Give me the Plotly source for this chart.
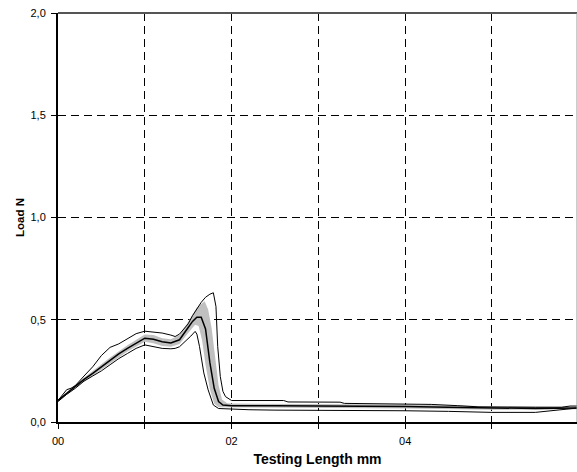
import plotly.graph_objects as go

# Mean curve
mean_x = [0, 0.1, 0.2, 0.3, 0.4, 0.5, 0.6, 0.7, 0.8, 0.9, 1.0, 1.1, 1.2, 1.3, 1.4, 1.5, 1.55, 1.6, 1.65,
          1.7, 1.75, 1.8, 1.85, 1.9, 1.95, 2.0, 2.5, 3.0, 3.5, 4.0, 4.5, 5.0, 5.5, 5.98]
mean_y = [0.105, 0.14, 0.175, 0.208, 0.238, 0.27, 0.30, 0.333, 0.36, 0.385, 0.41, 0.405, 0.392, 0.386, 0.402,
          0.462, 0.492, 0.512, 0.512, 0.455, 0.29, 0.165, 0.10, 0.083, 0.080, 0.080, 0.080, 0.079, 0.078,
          0.076, 0.072, 0.068, 0.066, 0.068]

# Maximum envelope
max_x = [0, 0.05, 0.1, 0.15, 0.2, 0.3, 0.4, 0.5, 0.6, 0.7, 0.8, 0.9, 1.0, 1.1, 1.2, 1.3, 1.35, 1.4, 1.5,
         1.55, 1.6, 1.65, 1.7, 1.75, 1.79, 1.82, 1.84, 1.87, 1.9, 1.93, 2.0, 2.6, 2.65, 3.25, 3.3, 4.0,
         4.3, 4.6, 4.85, 5.5, 5.8, 5.9, 5.98]
max_y = [0.105, 0.13, 0.158, 0.165, 0.178, 0.225, 0.27, 0.325, 0.365, 0.382, 0.405, 0.432, 0.444, 0.44,
         0.435, 0.425, 0.418, 0.43, 0.48, 0.52, 0.555, 0.585, 0.61, 0.625, 0.632, 0.565, 0.37, 0.222, 0.15,
         0.124, 0.105, 0.105, 0.098, 0.097, 0.091, 0.09, 0.086, 0.08, 0.074, 0.072, 0.072, 0.078, 0.078]

# Minimum envelope
min_x = [0, 0.1, 0.2, 0.3, 0.4, 0.5, 0.6, 0.7, 0.8, 0.9, 1.0, 1.1, 1.2, 1.3, 1.35, 1.4, 1.47, 1.53, 1.58,
         1.6, 1.63, 1.68, 1.73, 1.79, 1.85, 2.0, 2.2, 2.5, 3.0, 3.5, 3.75, 4.0, 4.5, 4.7, 5.0, 5.5, 5.75, 5.98]
min_y = [0.10, 0.135, 0.165, 0.20, 0.225, 0.25, 0.28, 0.31, 0.335, 0.36, 0.377, 0.368, 0.36, 0.358, 0.36,
         0.368, 0.394, 0.42, 0.443, 0.43, 0.37, 0.24, 0.157, 0.083, 0.066, 0.062, 0.060, 0.058, 0.057,
         0.056, 0.058, 0.055, 0.052, 0.05, 0.047, 0.047, 0.058, 0.068]

# Standard-deviation band edges
band_hi_x = [0, 0.2, 0.4, 0.6, 0.8, 1.0, 1.1, 1.2, 1.3, 1.4, 1.5, 1.6, 1.69, 1.73, 1.77, 1.81, 1.85, 1.89,
             1.95, 2.0, 3.0, 4.0, 5.0, 5.98]
band_hi_y = [0.11, 0.183, 0.25, 0.315, 0.375, 0.428, 0.425, 0.41, 0.405, 0.425, 0.49, 0.56, 0.59, 0.55,
             0.46, 0.32, 0.18, 0.11, 0.092, 0.09, 0.089, 0.086, 0.077, 0.074]
band_lo_x = [0, 0.2, 0.4, 0.6, 0.8, 1.0, 1.1, 1.2, 1.3, 1.4, 1.5, 1.58, 1.62, 1.66, 1.70, 1.75, 1.8, 1.85,
             2.0, 3.0, 4.0, 5.0, 5.98]
band_lo_y = [0.10, 0.167, 0.227, 0.287, 0.345, 0.392, 0.385, 0.372, 0.368, 0.382, 0.435, 0.475, 0.47,
             0.40, 0.28, 0.16, 0.09, 0.072, 0.068, 0.068, 0.066, 0.06, 0.062]

x_tickvals = [0, 1, 2, 3, 4, 5]
x_ticktext = ["00", "", "02", "", "04", ""]
y_tickvals = [0, 0.5, 1.0, 1.5, 2.0]
y_ticktext = ["0,0", "0,5", "1,0", "1,5", "2,0"]

fig = go.Figure()
fig.add_trace(go.Scatter(
    x=band_hi_x + band_lo_x[::-1], y=band_hi_y + band_lo_y[::-1],
    fill="toself", fillcolor="#c0c0c0", line=dict(width=0), mode="lines",
    hoverinfo="skip", showlegend=False))
fig.add_trace(go.Scatter(x=max_x, y=max_y, mode="lines",
                         line=dict(color="black", width=1), showlegend=False))
fig.add_trace(go.Scatter(x=min_x, y=min_y, mode="lines",
                         line=dict(color="black", width=1), showlegend=False))
fig.add_trace(go.Scatter(x=mean_x, y=mean_y, mode="lines",
                         line=dict(color="black", width=1.5), showlegend=False))

font = dict(family="Liberation Sans, Arial, sans-serif", size=11, color="black")

fig.update_layout(
    width=577, height=472,
    margin=dict(l=58, r=0, t=13, b=50),
    paper_bgcolor="white", plot_bgcolor="white",
    font=font,
    showlegend=False,
    xaxis=dict(
        range=[0, 5.98], tickmode="array", tickvals=x_tickvals, ticktext=x_ticktext,
        ticks="outside", ticklen=5, tickcolor="black", tickwidth=1,
        ticklabelstandoff=3,
        showline=True, linecolor="black", linewidth=2,
        showgrid=True, gridcolor="black", gridwidth=1, griddash="8px,5px",
        zeroline=False,
        tickfont=dict(size=11),
        title=dict(text="<b>Testing Length mm</b>", font=dict(size=14), standoff=8),
    ),
    yaxis=dict(
        range=[0, 2.0], tickmode="array", tickvals=y_tickvals, ticktext=y_ticktext,
        ticks="outside", ticklen=5, tickcolor="black", tickwidth=1,
        ticklabelstandoff=3,
        showline=True, linecolor="black", linewidth=2,
        showgrid=True, gridcolor="black", gridwidth=1, griddash="8px,5px",
        zeroline=False,
        tickfont=dict(size=11),
        title=dict(text="<b>Load N</b>", font=dict(size=11.5), standoff=3),
    ),
    shapes=[
        dict(type="line", xref="paper", yref="paper", x0=0, x1=1, y0=1, y1=1,
             line=dict(color="#555555", width=2)),
        dict(type="line", xref="paper", yref="paper", x0=1, x1=1, y0=0, y1=1,
             line=dict(color="#999999", width=1)),
    ],
)

fig.write_html("out.html", config={"displayModeBar": False},
               post_script="document.body.style.margin='0';document.body.style.overflow='hidden';")
